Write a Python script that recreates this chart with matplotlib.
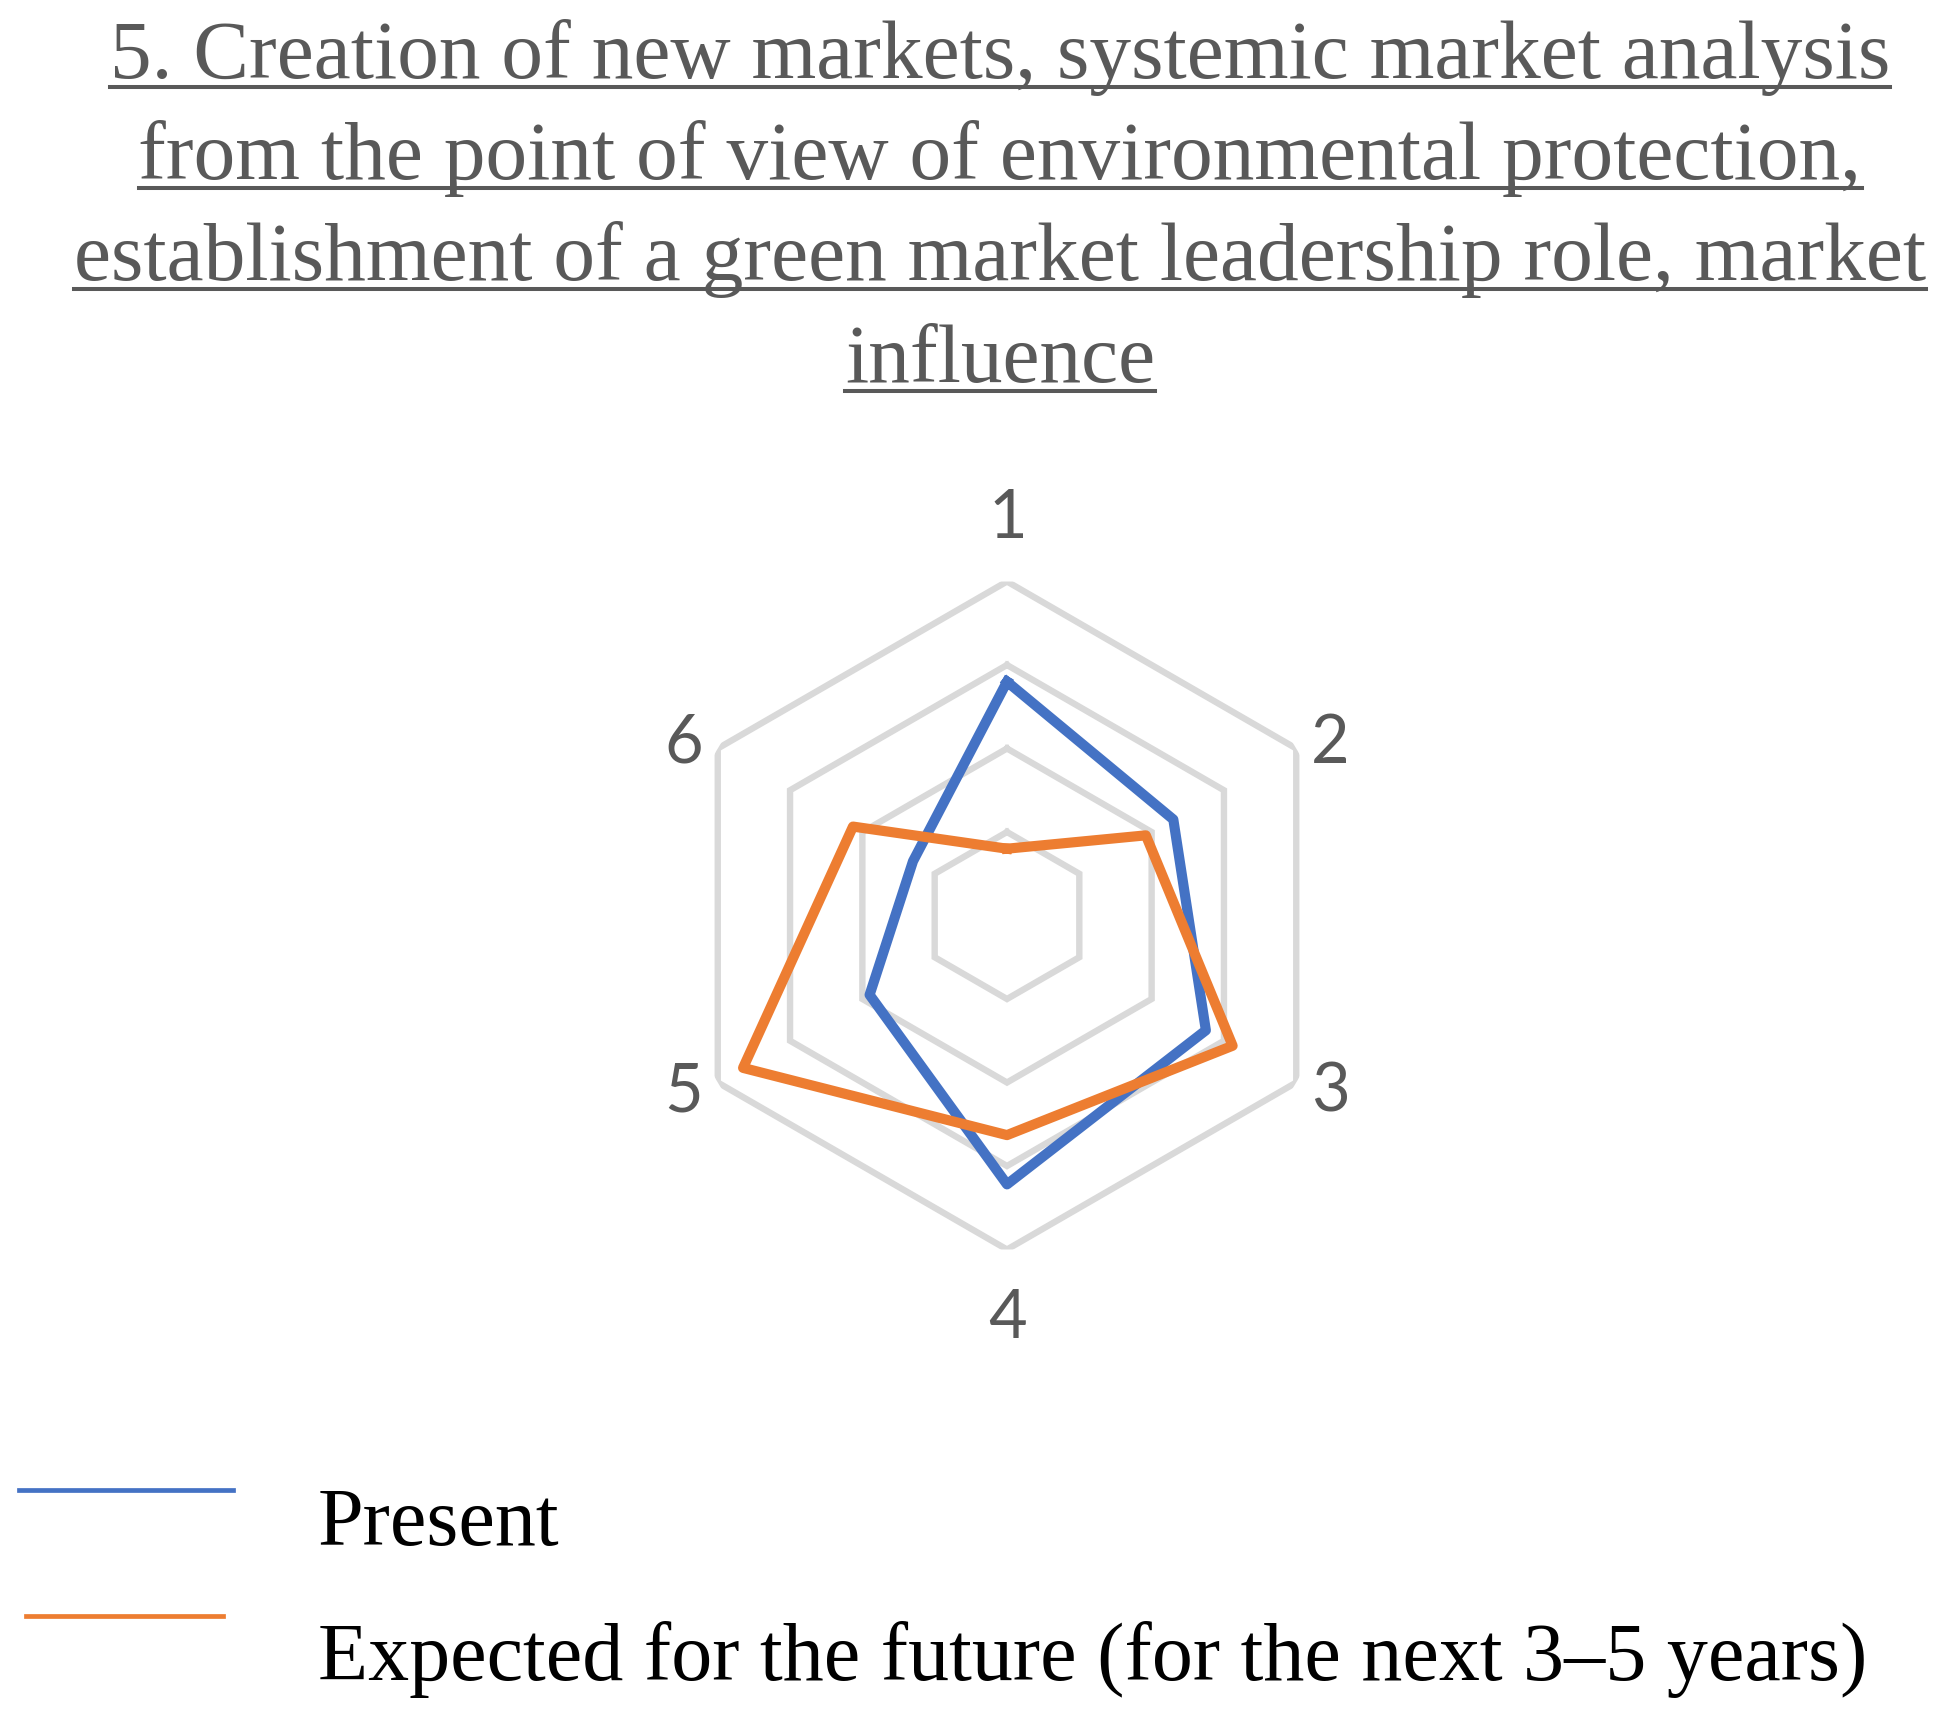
import numpy as np
import matplotlib
matplotlib.use("Agg")
import matplotlib.pyplot as plt
from matplotlib.lines import Line2D

# data
axis_labels = ['1', '2', '3', '4', '5', '6']
present = [2.8, 2.3, 2.75, 3.22, 1.9, 1.3]
future = [0.8, 1.92, 3.12, 2.63, 3.65, 2.13]
grid_levels = [1, 2, 3, 4]
series_names = ['Present', 'Expected for the future (for the next 3\u20135 years)']
title_lines = ['5. Creation of new markets, systemic market analysis',
               'from the point of view of environmental protection,',
               'establishment of a green market leadership role, market',
               'influence']

W, H = 1945, 1726
fig = plt.figure(figsize=(W / 100, H / 100), dpi=100)
fig.patch.set_facecolor('white')

# radar area (pixel centre / radius of the outer hexagon)
cx, cy, R = 1007, 915.5, 334
ax = fig.add_axes([(cx - R) / W, (H - cy - R) / H, 2 * R / W, 2 * R / H],
                  projection='polar')
ax.set_theta_zero_location('N')
ax.set_theta_direction(-1)
ax.set_ylim(0, max(grid_levels))
ax.set_axis_off()

theta = np.arange(len(axis_labels)) * 2 * np.pi / len(axis_labels)
theta_c = np.append(theta, 2 * np.pi)

for lv in grid_levels:
    ax.plot(theta_c, [lv] * len(theta_c), color='#D9D9D9', lw=4.6,
            solid_joinstyle='miter', zorder=1)

colors = ['#4472C4', '#ED7D31']
for vals, c in zip([present, future], colors):
    ax.plot(theta_c, list(vals) + [vals[0]], color=c, lw=7.3,
            solid_joinstyle='round', zorder=3)

# category labels, offset from each outer vertex (pixels)
lab_off = [(1, 44), (34, -14), (34, -29), (1, -88), (-34, -29), (-34, -14)]
for t, lab, off in zip(theta, axis_labels, lab_off):
    ax.annotate(lab, xy=(t, max(grid_levels)), xytext=off,
                textcoords='offset pixels', ha='center', va='baseline',
                fontsize=48, family='Lato', color='#595959',
                annotation_clip=False)

# title, underlined
title_base = [78, 179, 280, 382]
title_txt = []
for line, yb in zip(title_lines, title_base):
    t = fig.text(1000 / W, (H - yb) / H, line, ha='center', va='baseline',
                 fontsize=60, family='Liberation Serif', color='#595959')
    title_txt.append((t, yb))

fig.canvas.draw()
rend = fig.canvas.get_renderer()
for t, yb in title_txt:
    bb = t.get_window_extent(rend)
    yu = (H - yb - 9) / H
    fig.add_artist(Line2D([bb.x0 / W, bb.x1 / W], [yu, yu],
                          transform=fig.transFigure, color='#595959', lw=2.9))

# legend (line above its label, as in the original)
leg_line_y = [1490, 1616]
leg_line_x = [(19, 233), (26, 223)]
leg_text_base = [1545, 1680]
for name, c, ly, (x0, x1), tb in zip(series_names, colors, leg_line_y,
                                     leg_line_x, leg_text_base):
    fig.add_artist(Line2D([x0 / W, x1 / W], [(H - ly) / H, (H - ly) / H],
                          transform=fig.transFigure, color=c, lw=3.4))
    fig.text(318 / W, (H - tb) / H, name, ha='left', va='baseline',
             fontsize=59, family='Liberation Serif', color='black')

fig.savefig('out.png', dpi=100)
